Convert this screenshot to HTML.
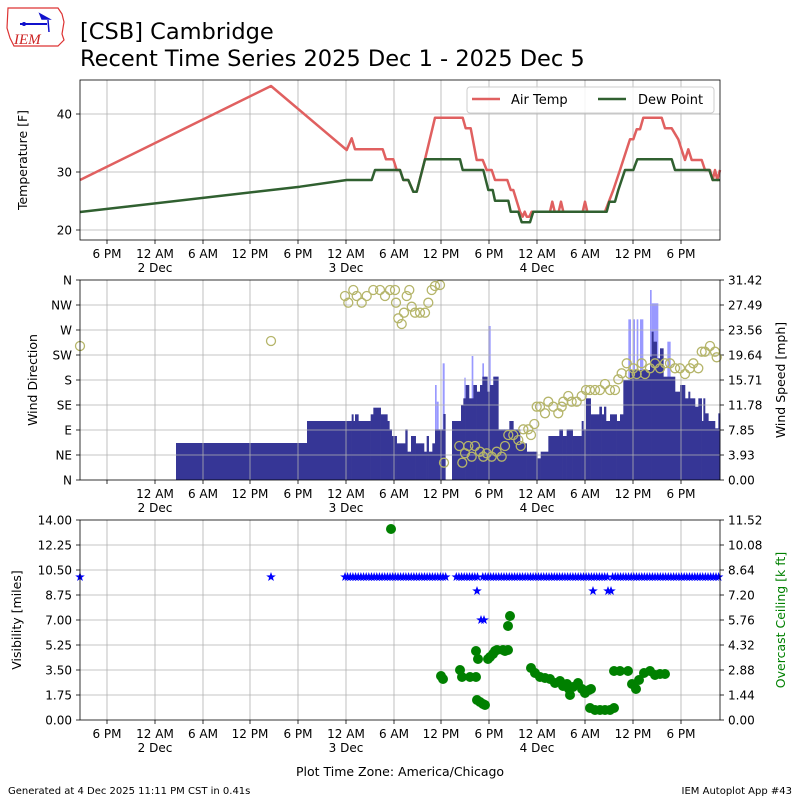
<!DOCTYPE html>
<html><head><meta charset="utf-8"><style>
body{margin:0;background:#fff}
svg{display:block;font-family:"DejaVu Sans","Liberation Sans",sans-serif}
</style></head><body>
<svg id="s" width="800" height="800" xmlns="http://www.w3.org/2000/svg"></svg>
<script>
const s=document.getElementById('s');let h='';
const add=t=>h+=t;
add('<path d="M8 8 L58 8 L62 14 L64 22 L62 34 L64 40 L58 46 L14 46 L10 38 L7 28 Z" fill="none" stroke="#d33" stroke-width="1.2"/>');
add('<line x1="20" y1="24" x2="47" y2="24" stroke="#11c" stroke-width="2"/><path d="M40 14 L49 19 L42 19 Z M48 20 L49 32" stroke="#11c" fill="#11c" stroke-width="1.5"/><circle cx="24" cy="24" r="2" fill="#11c"/>');
add('<text x="14" y="44" font-family="Liberation Serif,serif" font-style="italic" font-size="15" fill="#c22">IEM</text>');
add('<text x="80" y="39" font-size="22.5">[CSB] Cambridge</text><text x="80" y="66" font-size="22.5">Recent Time Series 2025 Dec 1 - 2025 Dec 5</text>');
const gx=[107,155,203,250,298,346,394,441,489,537,585,633,681];
const lab1=['6 PM','12 AM','6 AM','12 PM','6 PM','12 AM','6 AM','12 PM','6 PM','12 AM','6 AM','12 PM','6 PM'];
const lab2={1:'2 Dec',5:'3 Dec',9:'4 Dec'};
function panel(top,bot,skipFirst){
  gx.forEach((x,i)=>{add(`<line x1="${x}" y1="${top}" x2="${x}" y2="${bot}" stroke="#b0b0b0" stroke-width="0.8"/><line x1="${x}" y1="${bot}" x2="${x}" y2="${bot+4}" stroke="#000" stroke-width="0.8"/>`);
    if(skipFirst&&i==0)return;
    add(`<text x="${x}" y="${bot+18}" font-size="12" text-anchor="middle">${lab1[i]}</text>`);
    if(lab2[i])add(`<text x="${x}" y="${bot+32}" font-size="12" text-anchor="middle">${lab2[i]}</text>`);});
}
function yt(x,y,t,left,grid){ if(grid)add(`<line x1="80" y1="${y}" x2="720" y2="${y}" stroke="#b0b0b0" stroke-width="0.8"/>`);
  if(left)add(`<line x1="76" y1="${y}" x2="80" y2="${y}" stroke="#000" stroke-width="0.8"/><text x="72" y="${y+4.5}" font-size="12" text-anchor="end">${t}</text>`);
  else add(`<line x1="720" y1="${y}" x2="724" y2="${y}" stroke="#000" stroke-width="0.8"/><text x="728" y="${y+4.5}" font-size="12">${t}</text>`);}
panel(80,240,false);
[[114,40],[172,30],[230,20]].forEach(a=>yt(0,a[0],a[1],1,1));
const Z=(arr,ox,oy)=>arr.map(p=>[p[0]/3+ox,p[1]/3+oy]);
let at=[[80,180],[271,86]].concat(Z([[140,210],[155,175],[165,208],[248,208],[258,238],[280,238],[290,270],[300,270],[310,300],[325,300],[340,335],[350,335],[375,238],[405,113],[488,113],[497,145],[512,145],[530,240],[548,240],[560,270],[575,270],[585,300],[622,300],[632,330],[640,330],[660,395],[668,410],[674,395],[680,410],[688,410],[695,395],[750,395],[757,365],[764,395],[776,395],[783,365],[790,395],[848,395],[855,365],[862,395],[915,395],[940,330],[960,270],[990,178],[1000,178],[1010,148],[1020,148],[1030,113],[1085,113],[1095,145],[1115,145],[1135,178],[1145,210],[1155,240],[1165,208],[1175,240],[1205,240],[1215,270],[1230,270],[1238,300],[1245,270],[1252,300],[1260,270]],300,80));
let dp=[[80,212]].concat(Z([[0,320],[140,300],[215,300],[225,270],[300,270],[310,300],[325,300],[340,335],[350,335],[375,238],[480,238],[488,270],[550,270],[565,330],[578,330],[585,362],[625,362],[632,395],[655,395],[665,427],[690,427],[700,395],[920,395],[928,365],[945,365],[955,330],[975,270],[1000,270],[1012,238],[1115,238],[1125,270],[1228,270],[1238,300],[1260,300]],300,80));
const pl=(a,c)=>add(`<polyline points="${a.map(p=>p[0].toFixed(1)+','+p[1].toFixed(1)).join(' ')}" fill="none" stroke="${c}" stroke-width="2.5" stroke-linejoin="round"/>`);
pl(at,'#e06060');pl(dp,'#306030');
add('<rect x="467" y="87" width="247" height="26" rx="3" fill="#fff" fill-opacity="0.85" stroke="#ccc"/>');
add('<line x1="472" y1="99" x2="500" y2="99" stroke="#e06060" stroke-width="2.5"/><text x="511" y="104" font-size="13">Air Temp</text>');
add('<line x1="598" y1="99" x2="626" y2="99" stroke="#306030" stroke-width="2.5"/><text x="638" y="104" font-size="13">Dew Point</text>');
add('<rect x="80" y="80" width="640" height="160" fill="none" stroke="#000" stroke-width="0.8"/>');
add('<text transform="translate(27,160) rotate(-90)" font-size="12.5" text-anchor="middle">Temperature [F]</text>');
let dk=[[24,490],[140,423],[155,423],[160,403],[165,423],[175,403],[180,423],[212,423],[220,403],[242,383],[262,403],[268,423],[275,448],[290,468],[316,490],[322,448],[333,515],[347,468],[372,490],[380,515],[386,468],[397,515],[405,490],[430,448],[436,402],[456,600],[483,423],[490,375],[497,355],[507,315],[520,355],[530,315],[540,335],[547,315],[555,290],[562,290],[570,335],[580,315],[595,290],[612,448],[628,448],[640,423],[660,448],[680,490],[700,515],[712,515],[722,535],[745,515],[778,468],[788,448],[800,468],[818,448],[845,468],[850,423],[858,448],[872,355],[898,403],[905,380],[912,403],[918,380],[930,423],[950,403],[960,423],[970,403],[990,300],[1000,270],[1050,270],[1055,230],[1060,155],[1070,185],[1080,235],[1090,205],[1105,290],[1125,290],[1140,335],[1155,315],[1165,355],[1170,335],[1185,355],[1195,380],[1205,355],[1210,423],[1215,355],[1225,400],[1245,423],[1255,445],[1260,400]];
let gu=[[405,410,315],[410,416,365],[428,434,250],[493,497,293],[515,520,228],[547,552,250],[565,572,138],[580,595,290],[985,993,118],[1000,1005,118],[1010,1015,118],[1020,1030,118],[1050,1055,30],[1055,1075,70],[1102,1112,185],[1112,1120,335]];
gu.forEach(g=>add(`<rect x="${g[0]/3+300}" y="${g[2]/3+280}" width="${(g[1]-g[0])/3}" height="${480-(g[2]/3+280)}" fill="#9999ff"/>`));
add(`<rect x="176" y="443" width="131" height="37" fill="#363696"/><rect x="307" y="421" width="1" height="59" fill="#363696"/>`);
let px=0;dk.forEach(d=>{const y=d[1]/3+280;if(y<480)add(`<rect x="${px/3+300}" y="${y}" width="${(d[0]-px)/3+0.3}" height="${480-y}" fill="#363696"/>`);px=d[0];});
panel(280,480,true);
const dirs=['N','NW','W','SW','S','SE','E','NE','N'],spd=['31.42','27.49','23.56','19.64','15.71','11.78','7.85','3.93','0.00'];
for(let i=0;i<9;i++){const y=280+i*25;yt(0,y,dirs[i],1,i>0&&i<8);yt(0,y,spd[i],0,0);}
let cc=[[135,48],[145,68],[160,30],[170,48],[185,68],[200,48],[220,30],[240,30],[255,48],[270,30],[285,30],[288,68],[295,115],[305,132],[312,98],[320,48],[328,30],[335,80],[345,98],[360,98],[375,98],[385,68],[395,30],[405,18],[420,15],[432,548],[478,498],[487,548],[495,520],[505,498],[515,530],[525,498],[540,515],[550,530],[560,520],[575,530],[590,515],[605,530],[615,498],[625,465],[640,465],[655,480],[662,498],[670,448],[685,448],[693,465],[703,432],[710,380],[720,380],[735,400],[745,365],[760,380],[775,400],[785,380],[790,365],[805,348],[815,365],[830,365],[845,348],[858,330],[870,330],[885,330],[900,330],[915,312],[930,330],[945,330],[955,298],[965,280],[980,250],[990,282],[1000,265],[1010,282],[1025,250],[1035,282],[1050,265],[1065,250],[1080,265],[1095,250],[1110,250],[1125,265],[1140,265],[1155,282],[1170,265],[1180,250],[1195,265],[1205,215],[1215,215],[1230,198],[1245,215],[1250,232]];
let cpts=[[80,346],[271,341]].concat(Z(cc,300,280));
cpts.forEach(p=>add(`<circle cx="${p[0].toFixed(1)}" cy="${p[1].toFixed(1)}" r="4.5" fill="none" stroke="#b5b56a" stroke-width="1.3"/>`));
add('<rect x="80" y="280" width="640" height="200" fill="none" stroke="#000" stroke-width="0.8"/>');
add('<text transform="translate(37,380) rotate(-90)" font-size="12.5" text-anchor="middle">Wind Direction</text>');
add('<text transform="translate(785,380) rotate(-90)" font-size="12.5" text-anchor="middle">Wind Speed [mph]</text>');
panel(520,720,false);
const vis=['14.00','12.25','10.50','8.75','7.00','5.25','3.50','1.75','0.00'],cel=['11.52','10.08','8.64','7.20','5.76','4.32','2.88','1.44','0.00'];
for(let i=0;i<9;i++){const y=520+i*25;yt(0,y,vis[i],1,i>0&&i<8);yt(0,y,cel[i],0,0);}
const star=(x,y)=>{let p='';for(let k=0;k<10;k++){const r=k%2?2:5,a=-Math.PI/2+k*Math.PI/5;p+=(x+r*Math.cos(a)).toFixed(1)+','+(y+r*Math.sin(a)).toFixed(1)+' ';}add(`<polygon points="${p}" fill="#0000ff"/>`);};
star(80,577);star(271,577);
for(let x=345;x<=720;x+=2.65){if((x>448&&x<456)||(x>478&&x<482)||(x>608&&x<612))continue;star(x,577);}
[[477,591],[593,591],[608,591],[611,591],[481,620],[484,620]].forEach(p=>star(p[0],p[1]));
let gp=[[391,529],[441,676],[443,679],[460,670],[462,677],[470,677],[476,677],[476,651],[478,659],[488,659],[477,700],[480,702],[483,704],[485,705],[490,657],[493,654],[495,651],[497,650],[503,650],[505,651],[508,650],[508,626],[510,616],[531,668],[535,673],[540,677],[545,678],[550,679],[555,683],[560,681],[563,686],[567,684],[569,689],[570,695],[573,687],[578,683],[582,689],[585,693],[589,690],[591,689],[590,708],[595,710],[600,710],[605,710],[610,710],[614,708],[614,671],[620,671],[628,671],[632,684],[636,689],[639,680],[644,673],[650,671],[655,675],[660,674],[665,674]];
gp.forEach(p=>add(`<circle cx="${p[0]}" cy="${p[1]}" r="5" fill="#008000"/>`));
add('<rect x="80" y="520" width="640" height="200" fill="none" stroke="#000" stroke-width="0.8"/>');
add('<text transform="translate(21,620) rotate(-90)" font-size="12.5" text-anchor="middle">Visibility [miles]</text>');
add('<text transform="translate(785,620) rotate(-90)" font-size="12.5" text-anchor="middle" fill="#008000">Overcast Ceiling [k ft]</text>');
add('<text x="400" y="776" font-size="12.5" text-anchor="middle">Plot Time Zone: America/Chicago</text>');
add('<text x="8" y="794" font-size="10">Generated at 4 Dec 2025 11:11 PM CST in 0.41s</text><text x="792" y="794" font-size="10" text-anchor="end">IEM Autoplot App #43</text>');
s.innerHTML=h;
</script>
</body></html>
